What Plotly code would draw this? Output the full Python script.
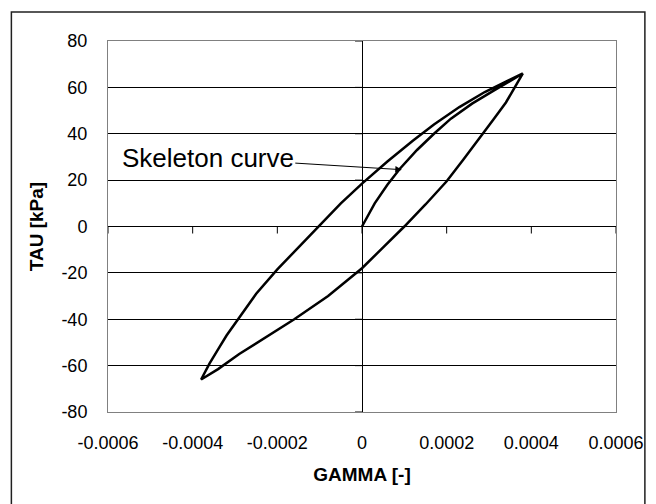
import plotly.graph_objects as go

# ---- data ----
skeleton_gamma = [0, 0.00003, 0.00006, 0.00009, 0.00013, 0.00017, 0.00021, 0.00026, 0.00031, 0.00038]
skeleton_tau = [0, 10, 18, 25, 33, 40, 46.5, 53, 58.5, 66]

upper_gamma = [0.00038, 0.00034, 0.00029, 0.00023, 0.00017, 0.00012, 0.00006, 0, -0.00005,
               -0.0001, -0.00015, -0.0002, -0.00025, -0.00029, -0.00032, -0.00034, -0.00036, -0.00038]
upper_tau = [66, 62.5, 58, 51.5, 44, 37, 28, 18.5, 10, 0.5, -9, -18.5, -29, -39, -47, -53, -59, -66]

lower_gamma = [-0.00038, -0.00034, -0.00029, -0.000235, -0.00016, -0.00008, 0, 0.00005, 0.0001,
               0.00015, 0.0002, 0.00024, 0.00028, 0.00031, 0.00034, 0.00036, 0.00038]
lower_tau = [-66, -61.5, -55, -48.5, -40, -30, -18, -9, 0, 9.5, 19.5, 29, 38.5, 46, 53.5, 59.5, 66]

x_tickvals = [-0.0006, -0.0004, -0.0002, 0, 0.0002, 0.0004, 0.0006]
x_ticktext = ["-0.0006", "-0.0004", "-0.0002", "0", "0.0002", "0.0004", "0.0006"]
y_tickvals = [-80, -60, -40, -20, 0, 20, 40, 60, 80]
y_ticktext = ["-80", "-60", "-40", "-20", "0", "20", "40", "60", "80"]

annot_text = "Skeleton curve"
annot_gamma = 0.000094
annot_tau = 24.5

x_title = "GAMMA [-]"
y_title = "TAU [kPa]"

FONT = "Arial, 'Liberation Sans', sans-serif"

W, H = 656, 504
ML, MR, MT, MB = 108, 38, 41, 92

fig = go.Figure()
fig.add_trace(go.Scatter(
    x=skeleton_gamma + upper_gamma[1:] + lower_gamma[1:],
    y=skeleton_tau + upper_tau[1:] + lower_tau[1:],
    mode="lines",
    line=dict(color="black", width=2.5),
    showlegend=False,
    hoverinfo="skip",
))

shapes = []
# tick marks on the x axis drawn at y = 0 (pointing down)
for xv in x_tickvals:
    shapes.append(dict(type="line", xref="x", yref="y", ysizemode="pixel", yanchor=0,
                       x0=xv, x1=xv, y0=0, y1=-7, line=dict(color="black", width=1)))
# tick marks on the y axis drawn at x = 0 (pointing left)
for yv in y_tickvals:
    shapes.append(dict(type="line", xref="x", yref="y", xsizemode="pixel", xanchor=0,
                       x0=-7, x1=0, y0=yv, y1=yv, line=dict(color="black", width=1)))
# outer chart border
pw = W - ML - MR
ph = H - MT - MB
bx0, bx1, by0, by1 = 11, 647, 12, 510
shapes.append(dict(type="rect", xref="paper", yref="paper", layer="above",
                   x0=(bx0 - ML) / pw, x1=(bx1 - ML) / pw,
                   y0=1 - (by1 - MT) / ph, y1=1 - (by0 - MT) / ph,
                   line=dict(color="#202020", width=1.5)))

fig.update_layout(
    width=W, height=H,
    margin=dict(l=ML, r=MR, t=MT, b=MB, pad=0),
    paper_bgcolor="white", plot_bgcolor="white",
    font=dict(family=FONT, size=18, color="black"),
    shapes=shapes,
    annotations=[dict(
        x=annot_gamma, y=annot_tau, xref="x", yref="y",
        text=annot_text, showarrow=True,
        ax=-194, ay=-12,
        arrowhead=2, arrowsize=1.3, arrowwidth=1, arrowcolor="black",
        font=dict(family=FONT, size=26, color="black"),
        standoff=0,
    )],
    xaxis=dict(
        range=[-0.0006, 0.0006], tickvals=x_tickvals, ticktext=x_ticktext,
        showgrid=False, zeroline=True, zerolinecolor="black", zerolinewidth=1,
        showline=True, mirror=True, linecolor="#808080", linewidth=1,
        ticks="", ticklabelstandoff=14,
        tickfont=dict(size=18),
        title=dict(text="<b>" + x_title + "</b>", font=dict(size=19), standoff=16),
    ),
    yaxis=dict(
        range=[-80, 80], tickvals=y_tickvals, ticktext=y_ticktext,
        showgrid=True, gridcolor="black", gridwidth=1,
        zeroline=True, zerolinecolor="black", zerolinewidth=1,
        showline=True, mirror=True, linecolor="#808080", linewidth=1,
        ticks="", ticklabelstandoff=16,
        tickfont=dict(size=18),
        title=dict(text="<b>" + y_title + "</b>", font=dict(size=19), standoff=12),
    ),
)

fig.write_html("out.html")
